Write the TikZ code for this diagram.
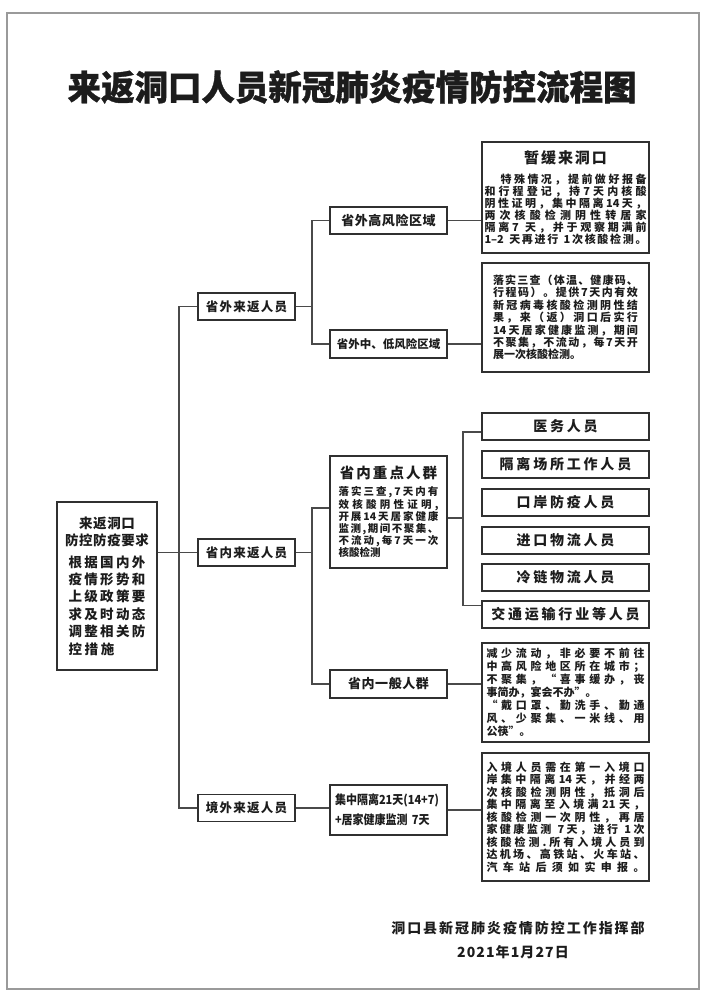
\documentclass[tikz,border=0pt]{standalone}
\usepackage{fontspec}
\newfontfamily\cjk{Noto Sans CJK SC}
\usetikzlibrary{calc}
\definecolor{linec}{HTML}{4A4A4A}
\definecolor{boxc}{HTML}{303030}
\definecolor{framec}{HTML}{9A9A9A}
\definecolor{txt}{HTML}{1C1C1C}
\newcommand\fs[2]{\fontsize{#1}{#2}\selectfont}
\makeatletter
\newdimen\jw \jw=100pt
\let\jl@end\relax
\def\jl@endm{\jl@end}
\newcommand\jl[2][\jw]{\leavevmode\hbox to #1{\jl@a#2\jl@end}}
\newcommand\jlast[2][\jw]{\leavevmode\hbox to #1{#2\hfil}}
\def\jl@a#1{#1\jl@b}
\def\jl@b#1{\def\jl@t{#1}\ifx\jl@t\jl@endm\else\hfil#1\expandafter\jl@b\fi}
\makeatother
\tikzset{
  conn/.style={draw=linec, line width=1.1pt},
  lbox/.style={draw=boxc, line width=1.2pt, inner sep=0pt, align=center, text=txt},
  lab1/.style={lbox, minimum width=97pt, minimum height=27pt,
    font={\cjk\bfseries\fs{12.5}{15}\addfontfeature{LetterSpace=10}}},
  lab2/.style={lbox, minimum width=117pt, minimum height=27pt,
    font={\cjk\bfseries\fs{13}{15}\addfontfeature{LetterSpace=4}}},
  lab3/.style={lbox, minimum width=167pt, minimum height=27pt,
    font={\cjk\bfseries\fs{14}{16}\addfontfeature{LetterSpace=20}}},
  para/.style={lbox, minimum width=167pt, font={\cjk\bfseries\fs{11}{12}}},
  plain/.style={inner sep=0pt, text=txt},
}
\begin{document}
\begin{tikzpicture}[x=1pt, y=-1pt]
\useasboundingbox (0,0) rectangle (705,1000);
\draw[framec, line width=1.5pt] (7,13) rectangle (699,989);

\node[plain, font={\cjk\bfseries\fs{34.5}{40}\addfontfeature{FakeStretch=0.97,FakeBold=1}}] (title) at (352,87) {来返洞口人员新冠肺炎疫情防控流程图};

% main box
\node[lbox, minimum width=100pt, minimum height=168pt, text width=90pt,
  font={\cjk\bfseries\fs{13.5}{17.4}}] (main) at (107,586)
  {{\addfontfeature{LetterSpace=4}来返洞口\\防控防疫要求\par}\vspace{4pt}
   \jl[77pt]{根据国内外}\\
   \jl[77pt]{疫情形势和}\\
   \jl[77pt]{上级政策要}\\
   \jl[77pt]{求及时动态}\\
   \jl[77pt]{调整相关防}\\
   \jlast[77pt]{\jl[46pt]{控措施}}};

% level 1
\node[lab1] (wsh) at (246.5,306.5) {省外来返人员};
\node[lab1] (sn)  at (246.5,552.5) {省内来返人员};
\node[lab1] (jw)  at (246.5,808)   {境外来返人员};

% level 2
\node[lab2] (wgao) at (388.5,220.5) {省外高风险区域};
\node[lab2, minimum height=28pt, font={\cjk\bfseries\fs{11.5}{14}}] (wzd) at (388.5,344) {省外中、低风险区域};
\node[lbox, minimum width=117pt, minimum height=112pt, text width=100pt,
  font={\cjk\bfseries\fs{10.5}{11.3}}] (nzd) at (388.5,512)
  {{\fs{14.5}{17}\addfontfeature{LetterSpace=14}省内重点人群\par}\vspace{6pt}
   \jl{落实三查,7天内有}\\
   \jl{效核酸阴性证明,}\\
   \jl{开展{14}天居家健康}\\
   \jl{监测,期间不聚集、}\\
   \jl{不流动,每7天一次}\\
   \jlast{核酸检测}};
\node[lab2, minimum height=28pt] (nyb) at (388.5,684) {省内一般人群};
\node[lbox, minimum width=117pt, minimum height=50pt, text width=107pt, align=left,
  font={\cjk\bfseries\fs{12.5}{20}\addfontfeature{FakeStretch=0.88}}] (jz) at (388.5,810)
  {集中隔离21天(14+7)\\+居家健康监测~7天};

% level 3
\node[para, minimum height=111pt, text width=162pt] (zh) at (565.5,197.5)
  {\jw=162pt
   {\fs{15}{18}\addfontfeature{LetterSpace=13}暂缓来洞口\par}\vspace{8pt}
   \jlast{\hskip16pt\jl[\dimexpr\jw-16pt\relax]{特殊情况，提前做好报备}}\\
   \jl{和行程登记，持7天内核酸}\\
   \jl{阴性证明，集中隔离{14}天，}\\
   \jl{两次核酸检测阴性转居家}\\
   \jl{隔离{7~}天，并于观察期满前}\\
   \jl{{1–2~}天再进行{~1}次核酸检测。}};

\node[para, minimum height=109pt, text width=145pt, font={\cjk\bfseries\fs{11}{12.4}}] (lsc) at (565.5,317.5)
  {\jw=145pt
   \jl{落实三查（体温、健康码、}\\
   \jl{行程码）。提供7天内有效}\\
   \jl{新冠病毒核酸检测阴性结}\\
   \jl{果，来（返）洞口后实行}\\
   \jl{{14}天居家健康监测，期间}\\
   \jl{不聚集，不流动，每7天开}\\
   \jlast{展一次核酸检测。}};

\node[lab3] (yw) at (565.5,426.5) {医务人员};
\node[lab3] (gl) at (565.5,464.5) {隔离场所工作人员};
\node[lab3] (ka) at (565.5,502.5) {口岸防疫人员};
\node[lab3] (jk) at (565.5,540.5) {进口物流人员};
\node[lab3] (ll) at (565.5,577.5) {冷链物流人员};
\node[lab3] (jt) at (565.5,614.5) {交通运输行业等人员};

\node[para, minimum height=99pt, text width=158pt, font={\cjk\bfseries\fs{11}{13}}] (jsld) at (565.5,692.5)
  {\jw=158pt
   \jl{减少流动，非必要不前往}\\
   \jl{中高风险地区所在城市；}\\
   \jl{不聚集，“喜事缓办，丧}\\
   \jlast{事简办，宴会不办”。}\\
   \jl{“戴口罩、勤洗手、勤通}\\
   \jl{风、少聚集、一米线、用}\\
   \jlast{公筷”。}};

\node[para, minimum height=128pt, text width=158pt, font={\cjk\bfseries\fs{11}{12.5}}] (rj) at (565.5,817)
  {\jw=158pt
   \jl{入境人员需在第一入境口}\\
   \jl{岸集中隔离{14}天，并经两}\\
   \jl{次核酸检测阴性，抵洞后}\\
   \jl{集中隔离至入境满{21}天，}\\
   \jl{核酸检测一次阴性，再居}\\
   \jl{家健康监测{~7}天，进行{~1}次}\\
   \jl{核酸检测.所有入境人员到}\\
   \jl{达机场、高铁站、火车站、}\\
   \jl{汽车站后须如实申报。}};

% footer
\node[plain, font={\cjk\bfseries\fs{14}{16}\addfontfeature{LetterSpace=14}}] (ft1) at (518,928) {洞口县新冠肺炎疫情防控工作指挥部};
\node[plain, font={\cjk\bfseries\fs{14}{16}\addfontfeature{LetterSpace=8}}] (ft2) at (513,952) {2021年1月27日};

% connectors
\coordinate (s1) at (179,0);
\coordinate (s2) at (312,0);
\coordinate (s3) at (463,0);
\draw[conn] (wsh.west) -- (wsh.west -| s1) -- (jw.west -| s1) -- (jw.west);
\draw[conn] (main.east |- sn.west) -- (sn.west);
\draw[conn] (wsh.east) -- (wsh.east -| s2);
\draw[conn] (wgao.west) -- (wgao.west -| s2) -- (wzd.west -| s2) -- (wzd.west);
\draw[conn] (sn.east) -- (sn.east -| s2);
\draw[conn] ([yshift=4pt]nzd.west) -- ([yshift=4pt]nzd.west -| s2) -- (nyb.west -| s2) -- (nyb.west);
\draw[conn] (jw.east) -- (jw.east -| jz.west);
\draw[conn] (wgao.east) -- (wgao.east -| zh.west);
\draw[conn] (wzd.east) -- (wzd.east -| lsc.west);
\draw[conn] ([yshift=-6pt]nzd.east) -- ([yshift=-6pt]nzd.east -| s3);
\draw[conn] ([yshift=-5.5pt]yw.west) -- ([yshift=-5.5pt]yw.west -| s3) -- ([yshift=9pt]jt.west -| s3) -- ([yshift=9pt]jt.west);
\draw[conn] (nyb.east) -- (nyb.east -| jsld.west);
\draw[conn] (jz.east) -- (jz.east -| rj.west);
\end{tikzpicture}
\end{document}
